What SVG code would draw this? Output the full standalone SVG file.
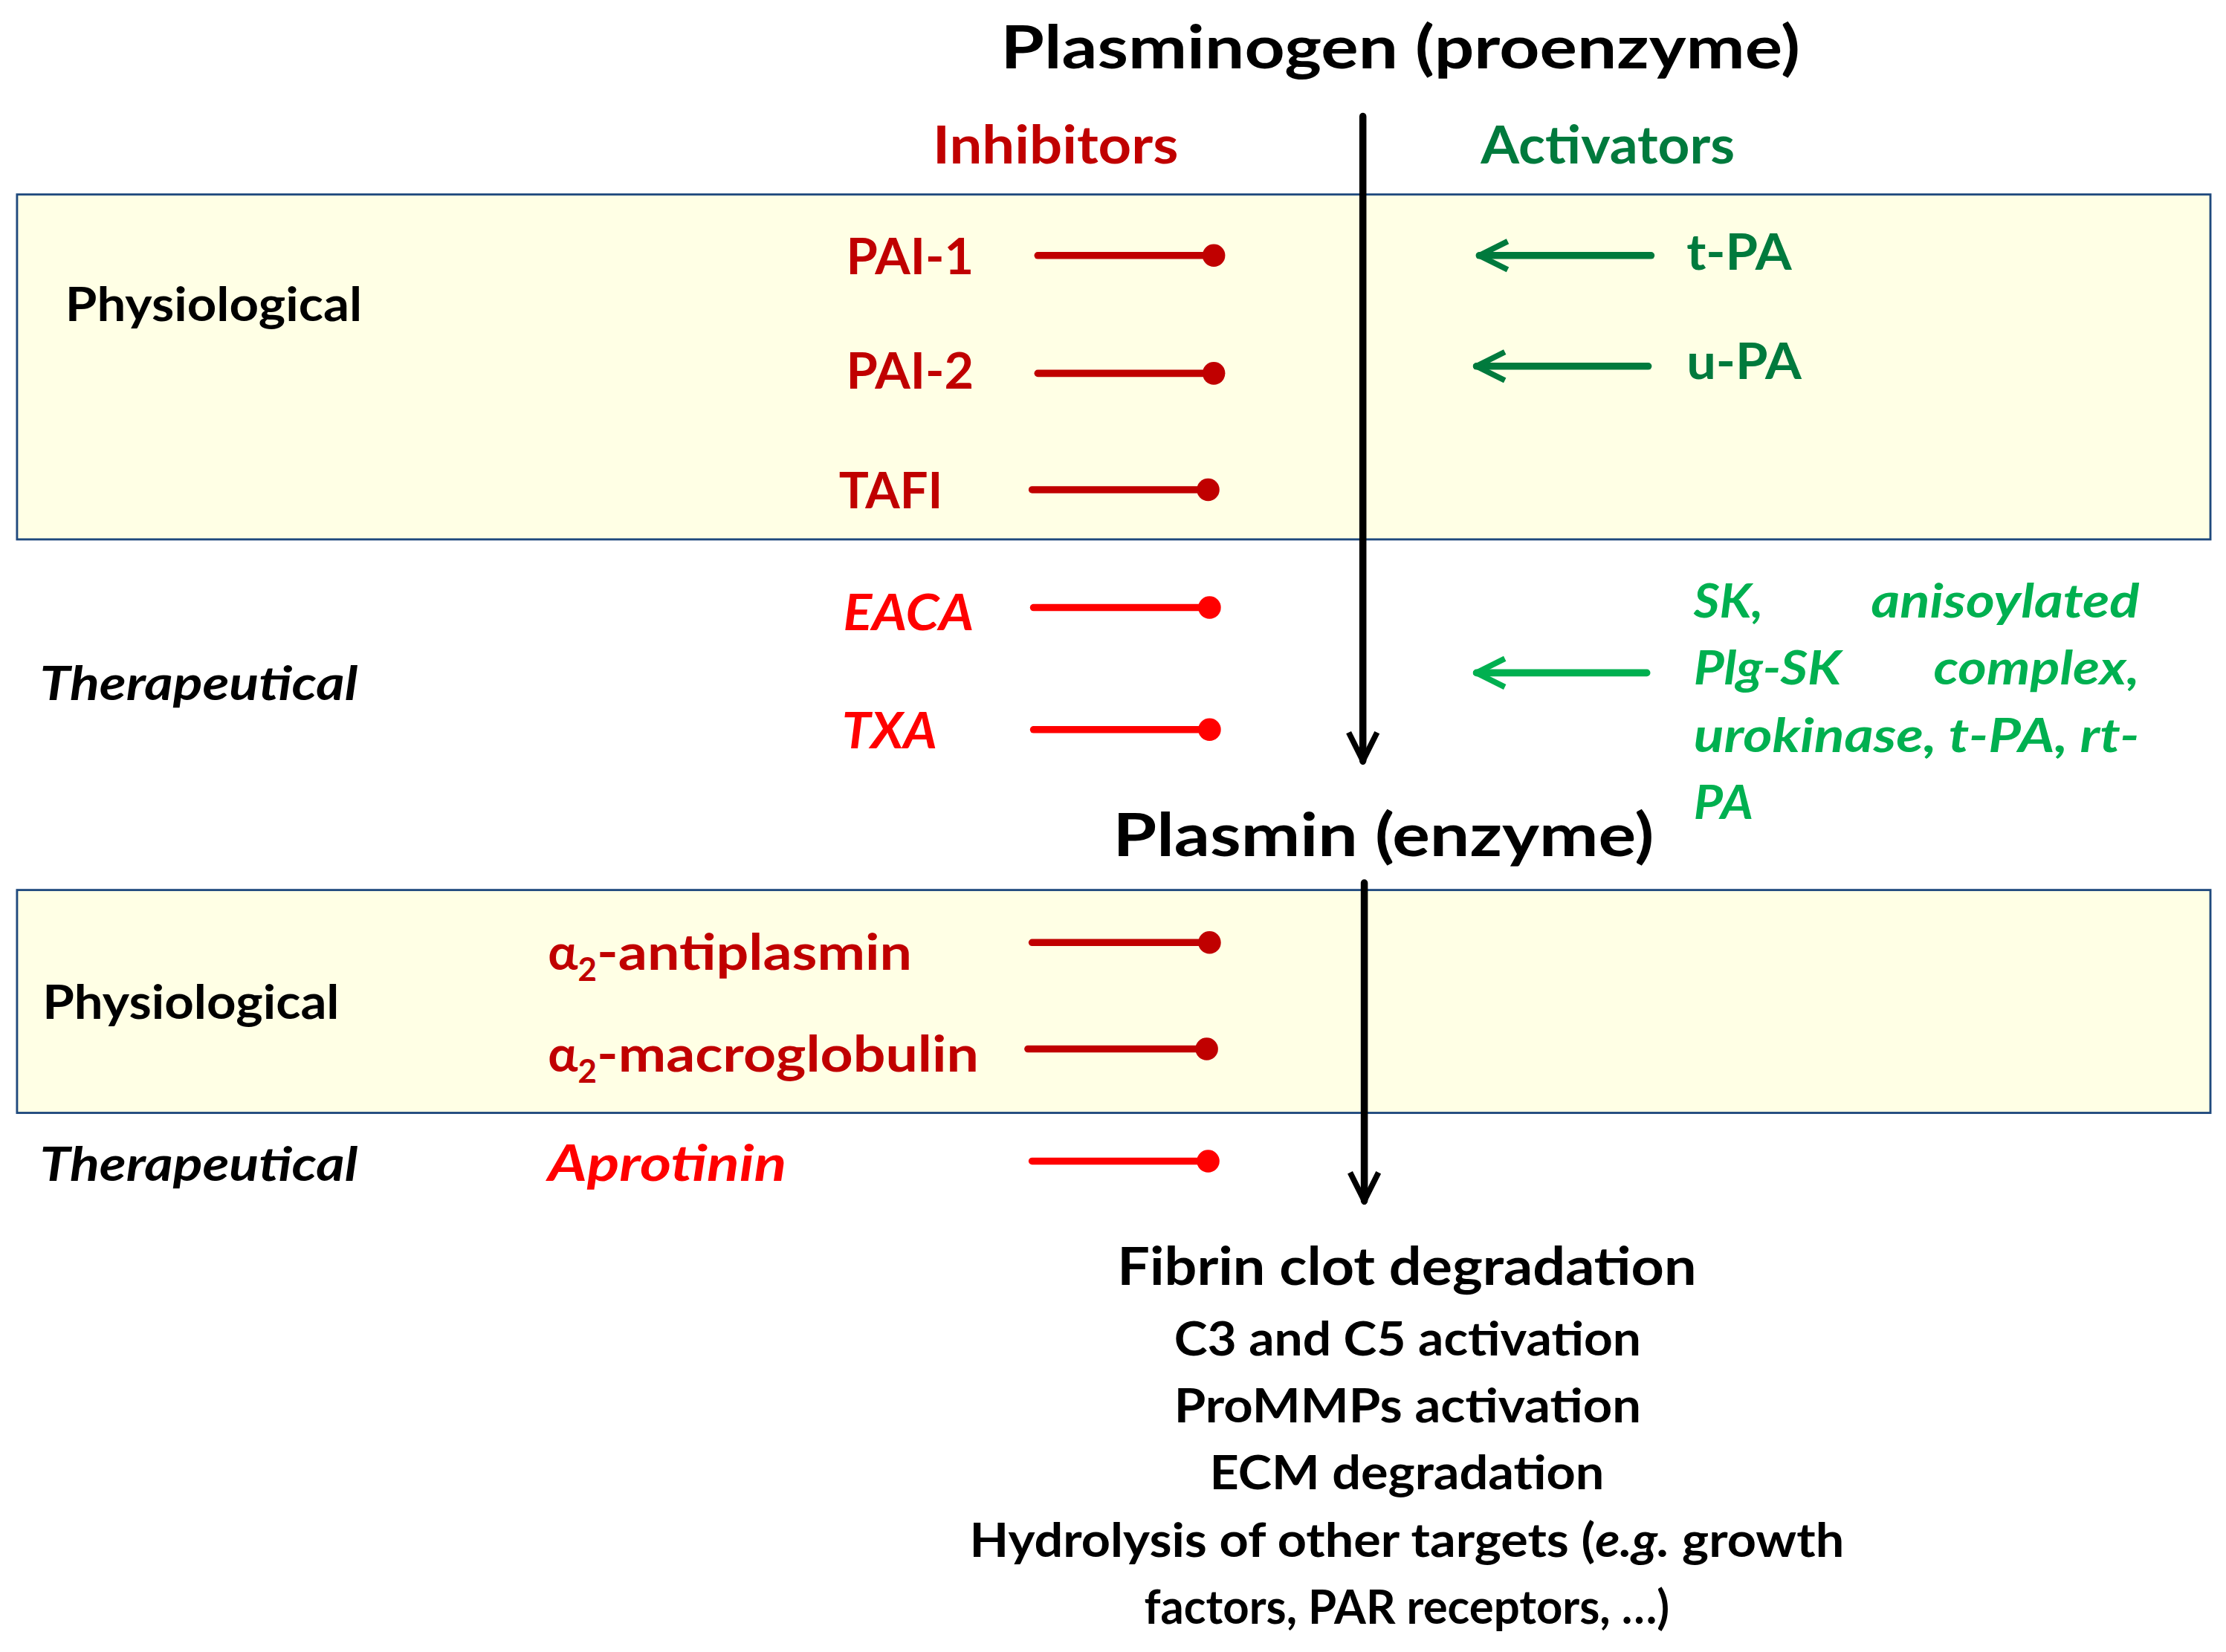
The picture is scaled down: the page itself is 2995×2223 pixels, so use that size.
<svg xmlns="http://www.w3.org/2000/svg" width="2995" height="2223" viewBox="0 0 2995 2223">
<style>
text{font-family:Lato,"Open Sans","Liberation Sans",sans-serif;font-weight:bold}
.dr{fill:#C00000}.br{fill:#FF0000}.dg{fill:#007A3D}.lg{fill:#00B050}
.k{fill:#000}
.i{font-style:italic}
.c{text-anchor:middle}.e{text-anchor:end}
.box{fill:#FFFFE5;stroke:#1F497D;stroke-width:1.5}
</style>
<defs>
<marker id="ah" viewBox="0 0 10 10" refX="9" refY="5" markerWidth="5" markerHeight="5" orient="auto" markerUnits="strokeWidth"><path d="M1,1 L9,5 L1,9" fill="none" stroke="context-stroke" stroke-width="1.6"/></marker>
</defs>
<rect width="2995" height="2223" fill="#fff"/>
<g transform="scale(1.9101)" lengthAdjust="spacingAndGlyphs">
<g id="boxes">
<rect class="box" x="12" y="137" width="1545" height="243"/>
<rect class="box" x="12" y="627" width="1545" height="157"/>
</g>
<g id="titles">
<text class="k" x="705" y="48" font-size="42" textLength="563" lengthAdjust="spacingAndGlyphs">Plasminogen (proenzyme)</text>
<text class="dr" x="657" y="115" font-size="37" textLength="173" lengthAdjust="spacingAndGlyphs">Inhibitors</text>
<text class="dg" x="1043" y="115" font-size="37" textLength="179" lengthAdjust="spacingAndGlyphs">Activators</text>
<text class="k" x="784" y="603" font-size="42" textLength="381" lengthAdjust="spacingAndGlyphs">Plasmin (enzyme)</text>
</g>
<g id="labels" font-size="33">
<text class="k" x="46" y="226" textLength="209" lengthAdjust="spacingAndGlyphs">Physiological</text>
<text class="k i" x="28" y="493" textLength="224" lengthAdjust="spacingAndGlyphs">Therapeutical</text>
<text class="k" x="30" y="718" textLength="209" lengthAdjust="spacingAndGlyphs">Physiological</text>
<text class="k i" x="28" y="832" textLength="224" lengthAdjust="spacingAndGlyphs">Therapeutical</text>
</g>
<g id="inhibitors" font-size="35">
<text class="dr" x="596" y="193" textLength="90" lengthAdjust="spacingAndGlyphs">PAI-1</text>
<text class="dr" x="596" y="274" textLength="90" lengthAdjust="spacingAndGlyphs">PAI-2</text>
<text class="dr" x="591" y="358" textLength="73" lengthAdjust="spacingAndGlyphs">TAFI</text>
<text class="br i" x="594" y="444" textLength="92" lengthAdjust="spacingAndGlyphs">EACA</text>
<text class="br i" x="593" y="527" textLength="67" lengthAdjust="spacingAndGlyphs">TXA</text>
<text class="dr" x="386" y="683">α<tspan font-size="23" dy="8">2</tspan><tspan dy="-8" textLength="222" lengthAdjust="spacingAndGlyphs">-antiplasmin</tspan></text>
<text class="dr" x="386" y="755">α<tspan font-size="23" dy="8">2</tspan><tspan dy="-8" textLength="269" lengthAdjust="spacingAndGlyphs">-macroglobulin</tspan></text>
<text class="br i" x="386" y="832" textLength="168" lengthAdjust="spacingAndGlyphs">Aprotinin</text>
</g>
<g id="activators" font-size="35">
<text class="dg" x="1188" y="190" textLength="74" lengthAdjust="spacingAndGlyphs">t-PA</text>
<text class="dg" x="1188" y="267" textLength="81" lengthAdjust="spacingAndGlyphs">u-PA</text>
<text class="lg i" font-size="33"><tspan x="1193" y="435" textLength="49" lengthAdjust="spacingAndGlyphs">SK,</tspan><tspan x="1318" y="435" textLength="189" lengthAdjust="spacingAndGlyphs">anisoylated</tspan><tspan x="1193" y="482" textLength="104" lengthAdjust="spacingAndGlyphs">Plg-SK</tspan><tspan x="1362" y="482" textLength="145" lengthAdjust="spacingAndGlyphs">complex,</tspan><tspan x="1193" y="530" textLength="314" lengthAdjust="spacingAndGlyphs">urokinase, t-PA, rt-</tspan><tspan x="1193" y="577" textLength="42" lengthAdjust="spacingAndGlyphs">PA</tspan></text>
</g>
<g id="outcomes" class="k">
<text x="787" y="905" font-size="37" textLength="408" lengthAdjust="spacingAndGlyphs">Fibrin clot degradation</text>
<text x="827" y="955" font-size="33" textLength="329" lengthAdjust="spacingAndGlyphs">C3 and C5 activation</text>
<text x="827" y="1002" font-size="33" textLength="329" lengthAdjust="spacingAndGlyphs">ProMMPs activation</text>
<text x="852" y="1049" font-size="33" textLength="278" lengthAdjust="spacingAndGlyphs">ECM degradation</text>
<text x="683" y="1097" font-size="33" textLength="616" lengthAdjust="spacingAndGlyphs">Hydrolysis of other targets (<tspan font-style="italic">e.g.</tspan> growth</text>
<text x="806" y="1144" font-size="33" textLength="370" lengthAdjust="spacingAndGlyphs">factors, PAR receptors, …)</text>
</g>
<g id="connectors" fill="none" stroke-linecap="round">
<g stroke="#000" stroke-width="5">
<line x1="960" y1="82" x2="960" y2="536" marker-end="url(#ah)"/>
<line x1="961" y1="622" x2="961" y2="846" marker-end="url(#ah)"/>
</g>
<g stroke-width="5">
<line x1="731" y1="180" x2="855" y2="180" stroke="#C00000"/>
<line x1="731" y1="263" x2="855" y2="263" stroke="#C00000"/>
<line x1="727" y1="345" x2="851" y2="345" stroke="#C00000"/>
<line x1="728" y1="428" x2="852" y2="428" stroke="#FF0000"/>
<line x1="728" y1="514" x2="852" y2="514" stroke="#FF0000"/>
<line x1="727" y1="664" x2="852" y2="664" stroke="#C00000"/>
<line x1="724" y1="739" x2="850" y2="739" stroke="#C00000"/>
<line x1="727" y1="818" x2="851" y2="818" stroke="#FF0000"/>
<line x1="1163" y1="180" x2="1042" y2="180" stroke="#007A3D" marker-end="url(#ah)"/>
<line x1="1161" y1="258" x2="1040" y2="258" stroke="#007A3D" marker-end="url(#ah)"/>
<line x1="1160" y1="474" x2="1040" y2="474" stroke="#00B050" marker-end="url(#ah)"/>
</g>
<g stroke="none">
<circle cx="855" cy="180" r="8" fill="#C00000"/>
<circle cx="855" cy="263" r="8" fill="#C00000"/>
<circle cx="851" cy="345" r="8" fill="#C00000"/>
<circle cx="852" cy="428" r="8" fill="#FF0000"/>
<circle cx="852" cy="514" r="8" fill="#FF0000"/>
<circle cx="852" cy="664" r="8" fill="#C00000"/>
<circle cx="850" cy="739" r="8" fill="#C00000"/>
<circle cx="851" cy="818" r="8" fill="#FF0000"/>
</g>
</g>
</g>
</svg>
